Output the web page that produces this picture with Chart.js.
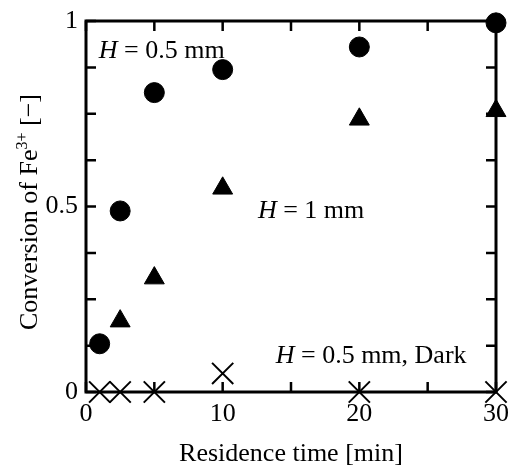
<!DOCTYPE html>
<html lang="en">
<head>
  <meta charset="UTF-8">
  <title>Conversion of Fe3+</title>
  <script src="https://cdn.jsdelivr.net/npm/chart.js"></script>
  <style>
    body {
      margin: 0;
      background-color: #fff;
    }
  </style>
</head>
<body>
  <canvas id="chart" width="513" height="468"></canvas>

  <script>
    // data
    const timesThin = [1, 2.5, 5, 10, 20, 30];
    const convThin = [0.13, 0.488, 0.807, 0.869, 0.93, 0.995];
    const timesThick = [2.5, 5, 10, 20, 30];
    const convThick = [0.191, 0.307, 0.549, 0.735, 0.758];
    const timesDark = [1, 2.5, 5, 10, 20, 30];
    const convDark = [0, 0, 0, 0.05, 0, 0];
    const xTickLabels = [0, 10, 20, 30];
    const yTickLabels = [0, 0.5, 1];

    const FONT = 'Liberation Serif';

    function toPoints(xs, ys) {
      return xs.map((x, i) => ({ x: x, y: ys[i] }));
    }

    // text labels inside the plot, anchored in data units (left, baseline)
    const notes = [
      { x: 0.94, y: 0.9, rest: ' = 0.5 mm' },
      { x: 12.58, y: 0.469, rest: ' = 1 mm' },
      { x: 13.88, y: 0.078, rest: ' = 0.5 mm, Dark' }
    ];

    const framePlugin = {
      id: 'frame',
      beforeDatasetsDraw(chart) {
        const { ctx, chartArea: a, scales } = chart;
        ctx.save();
        ctx.strokeStyle = '#000';
        // inward ticks on all four sides
        ctx.lineWidth = 2.5;
        const len = 10;
        ctx.beginPath();
        scales.x.ticks.forEach(t => {
          const px = scales.x.getPixelForValue(t.value);
          ctx.moveTo(px, a.bottom); ctx.lineTo(px, a.bottom - len);
          ctx.moveTo(px, a.top); ctx.lineTo(px, a.top + len);
        });
        scales.y.ticks.forEach(t => {
          const py = scales.y.getPixelForValue(t.value);
          ctx.moveTo(a.left, py); ctx.lineTo(a.left + len, py);
          ctx.moveTo(a.right, py); ctx.lineTo(a.right - len, py);
        });
        ctx.stroke();
        ctx.lineWidth = 3;
        ctx.strokeRect(a.left, a.top, a.right - a.left, a.bottom - a.top);
        ctx.restore();
      },
      afterDraw(chart) {
        const { ctx, scales } = chart;
        ctx.save();
        ctx.fillStyle = '#000';
        ctx.textBaseline = 'alphabetic';
        ctx.textAlign = 'left';
        notes.forEach(n => {
          const px = scales.x.getPixelForValue(n.x);
          const py = scales.y.getPixelForValue(n.y);
          ctx.font = 'italic 26px ' + FONT;
          ctx.fillText('H', px, py);
          const w = ctx.measureText('H').width;
          ctx.font = '26px ' + FONT;
          ctx.fillText(n.rest, px + w, py);
        });

        // y axis title with superscript
        const parts = [
          { t: 'Conversion of Fe', f: '26px ' + FONT, dy: 0 },
          { t: '3+', f: '16px ' + FONT, dy: -10 },
          { t: ' [\u2212]', f: '26px ' + FONT, dy: 0 }
        ];
        let total = 0;
        parts.forEach(p => { ctx.font = p.f; p.w = ctx.measureText(p.t).width; total += p.w; });
        ctx.translate(37, 212);
        ctx.rotate(-Math.PI / 2);
        let cx = -total / 2;
        parts.forEach(p => {
          ctx.font = p.f;
          ctx.fillText(p.t, cx, p.dy);
          cx += p.w;
        });
        ctx.restore();
      }
    };

    new Chart(document.getElementById('chart'), {
      type: 'scatter',
      data: {
        datasets: [
          {
            label: 'H = 0.5 mm',
            data: toPoints(timesThin, convThin),
            pointStyle: 'circle',
            pointRadius: 10,
            borderWidth: 1,
            backgroundColor: '#000',
            borderColor: '#000',
            clip: false
          },
          {
            label: 'H = 1 mm',
            data: toPoints(timesThick, convThick),
            pointStyle: 'triangle',
            pointRadius: 11.5,
            borderWidth: 1,
            backgroundColor: '#000',
            borderColor: '#000',
            clip: false
          },
          {
            label: 'H = 0.5 mm, Dark',
            data: toPoints(timesDark, convDark),
            pointStyle: 'crossRot',
            pointRadius: 15,
            borderWidth: 2,
            backgroundColor: '#000',
            borderColor: '#000',
            clip: false
          }
        ]
      },
      options: {
        responsive: false,
        animation: false,
        devicePixelRatio: 1,
        events: [],
        layout: { padding: { top: 21, right: 12, left: 0, bottom: 0 } },
        plugins: {
          legend: { display: false },
          tooltip: { enabled: false }
        },
        scales: {
          x: {
            type: 'linear',
            min: 0,
            max: 30,
            afterFit: s => { s.height = 76; s.paddingLeft = 0; s.paddingRight = 0; },
            grid: { display: false, drawTicks: false },
            border: { display: false },
            ticks: {
              stepSize: 5,
              padding: 7,
              maxRotation: 0,
              color: '#000',
              font: { family: FONT, size: 26 },
              callback: v => xTickLabels.includes(v) ? String(v) : ''
            },
            title: {
              display: true,
              text: 'Residence time [min]',
              color: '#000',
              font: { family: FONT, size: 26, lineHeight: 1 },
              padding: { top: 0, bottom: 1 }
            }
          },
          y: {
            type: 'linear',
            min: 0,
            max: 1,
            afterFit: s => { s.width = 86; s.paddingTop = 0; s.paddingBottom = 0; },
            grid: { display: false, drawTicks: false },
            border: { display: false },
            ticks: {
              stepSize: 0.125,
              padding: 8,
              color: '#000',
              font: { family: FONT, size: 26 },
              callback: v => yTickLabels.includes(v) ? String(v) : ''
            }
          }
        }
      },
      plugins: [framePlugin]
    });
  </script>
</body>
</html>
